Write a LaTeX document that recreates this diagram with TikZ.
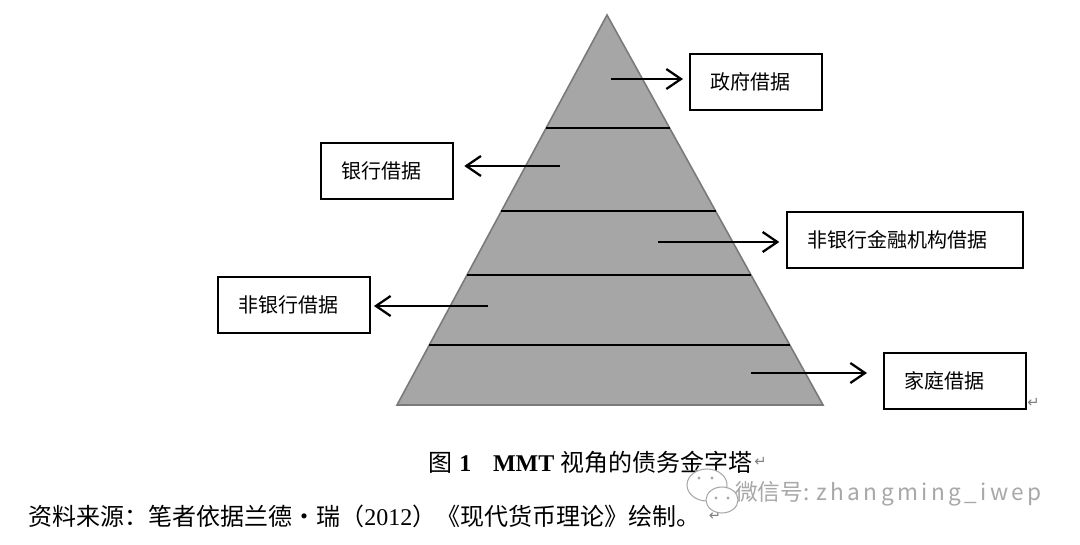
\documentclass[tikz,border=0pt]{standalone}
\usepackage{fontspec}
\setmainfont{Liberation Serif}
\newfontfamily\cjk{Noto Sans CJK SC}
\newfontfamily\symb{DejaVu Sans}
\usetikzlibrary{calc,arrows.meta,positioning}
\definecolor{pyrfill}{HTML}{A6A6A6}
\definecolor{pyredge}{HTML}{7A7A7A}
\definecolor{wmgray}{HTML}{A8A8A8}
\begin{document}
\begin{tikzpicture}[x=0.75pt,y=-0.75pt,
  box/.style={draw,line width=1.7pt,minimum height=42pt,inner xsep=15pt,align=left,text width=#1,font=\cjk\fontsize{15}{18}\selectfont},
  arr/.style={line width=1.7pt,-{Straight Barb[length=11pt,width=15pt,line width=1.7pt]}},
  tier/.style={line width=1.8pt},
  ret/.style={text=gray,inner sep=0pt,font=\symb\fontsize{11}{12}\selectfont}]
  \fill[white] (0,0) rectangle (1080,545);
  \useasboundingbox (0,0) rectangle (1080,545);

  % pyramid
  \coordinate (apex) at (607,15);
  \coordinate (bl) at (397,405);
  \coordinate (br) at (823,405);
  \filldraw[fill=pyrfill,draw=pyredge,line width=1.2pt] (apex) -- (bl) -- (br) -- cycle;
  \foreach \t in {0.29,0.503,0.667,0.846}
    \draw[tier] ($(apex)!\t!(bl)$) -- ($(apex)!\t!(br)$);

  % boxes
  \node[box=69pt,anchor=north west] (gov) at (689,53) {政府借据};
  \node[box=69pt,anchor=north west] (bank) at (320,142) {银行借据};
  \node[box=147pt,anchor=north west] (nbfi) at (786,211) {非银行金融机构借据};
  \node[box=84pt,anchor=north west] (nonbank) at (217,276) {非银行借据};
  \node[box=76.5pt,anchor=north west] (home) at (883,352) {家庭借据};

  % arrows
  \coordinate (g) at (611,79);
  \coordinate (b) at (560,166);
  \coordinate (f) at (658,242);
  \coordinate (n) at (488,306);
  \coordinate (h) at (751,373);
  \draw[arr,shorten >=4.5pt] (g) -- (g -| gov.west);
  \draw[arr,shorten >=7.5pt] (b) -- (b -| bank.east);
  \draw[arr,shorten >=5pt] (f) -- (f -| nbfi.west);
  \draw[arr,shorten >=2pt] (n) -- (n -| nonbank.east);
  \draw[arr,shorten >=12pt] (h) -- (h -| home.west);
  \node[ret,anchor=south west] (r1) at (1027,408) {↵};

  % caption and source
  \node[anchor=west,inner sep=0pt,font=\fontsize{18}{20}\selectfont] (cap) at (428,462)
    {{\cjk 图}\hspace{0.3em}{\bfseries 1}\hspace{0.9em}{\bfseries MMT} {\cjk 视角的债务金字塔}};
  \node[ret,right=1pt of cap] (r2) {↵};
  \node[anchor=west,inner sep=0pt,font=\fontsize{18}{20}\selectfont] (src) at (28,516)
    {{\cjk 资料来源：笔者依据兰德·瑞（}2012{\cjk ）《现代货币理论》绘制。}};
  \node[ret,right=6pt of src] (r3) {↵};

  % watermark
  \draw[wmgray,fill=white,line width=0.8pt] (707,485) ellipse (20 and 16);
  \draw[wmgray,fill=white,line width=0.8pt] (722,500) ellipse (16 and 13);
  \foreach \p in {(699,478),(712,478),(716,498),(728,498)}
    \fill[wmgray] \p circle (1.7);
  \node[anchor=west,inner sep=0pt,text=wmgray,font=\cjk\fontsize{17}{20}\selectfont] (wm) at (735,494)
    {微信号: {\addfontfeature{LetterSpace=15}zhangming\_iwep}};
\end{tikzpicture}
\end{document}
